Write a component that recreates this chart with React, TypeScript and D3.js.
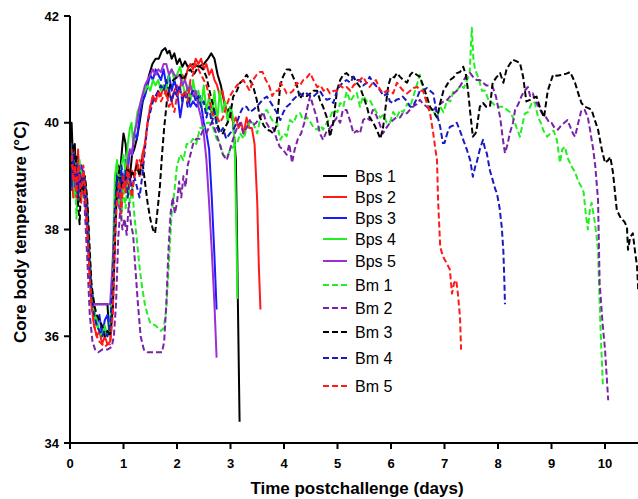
import React from "react";
import * as d3 from "d3";

type Pt = [number, number];

const xTicks = [0, 1, 2, 3, 4, 5, 6, 7, 8, 9, 10];
const yTicks = [34, 36, 38, 40, 42];

const bps1: Pt[] = [[0,39.3],[0.03,40.0],[0.06,39.2],[0.09,39.6],[0.12,38.7],[0.15,39.4],[0.18,38.9],[0.21,39.2],[0.25,38.8],[0.28,38.9],[0.32,38.5],[0.36,37.6],[0.4,36.9],[0.45,36.6],[0.55,36.6],[0.7,36.6],[0.73,36.1],[0.78,36.3],[0.82,37.5],[0.86,38.8],[0.9,39.2],[0.94,39.1],[0.98,39.6],[1.0,39.8],[1.04,39.6],[1.08,39.1],[1.12,39.0],[1.16,39.4],[1.2,39.5],[1.25,39.7],[1.3,40.0],[1.36,40.4],[1.42,40.6],[1.48,40.9],[1.54,41.1],[1.6,41.2],[1.66,41.2],[1.72,41.35],[1.78,41.4],[1.82,41.3],[1.86,41.35],[1.9,41.2],[1.95,41.3],[2.0,41.1],[2.05,41.2],[2.1,41.05],[2.15,41.15],[2.2,41.05],[2.3,41.1],[2.4,41.05],[2.5,41.1],[2.58,41.2],[2.64,41.3],[2.7,41.2],[2.76,40.9],[2.82,40.7],[2.88,40.4],[2.94,40.2],[3.0,40.3],[3.05,40.0],[3.1,39.3],[3.12,38.0],[3.14,36.5],[3.17,34.4]];

const bps2: Pt[] = [[0,39.0],[0.03,39.4],[0.06,38.6],[0.09,39.3],[0.12,38.9],[0.15,39.5],[0.18,38.7],[0.21,39.1],[0.25,38.6],[0.28,38.9],[0.32,38.2],[0.36,37.4],[0.4,36.6],[0.45,36.2],[0.5,36.0],[0.55,36.1],[0.6,35.85],[0.65,36.0],[0.7,35.85],[0.75,35.9],[0.8,36.6],[0.84,38.0],[0.88,38.8],[0.92,39.1],[0.96,38.5],[1.0,39.0],[1.04,38.7],[1.08,39.2],[1.12,38.9],[1.16,39.1],[1.2,39.0],[1.25,39.3],[1.3,39.0],[1.35,39.4],[1.4,39.6],[1.45,40.0],[1.5,40.3],[1.55,40.5],[1.6,40.4],[1.65,40.6],[1.7,40.5],[1.75,40.7],[1.8,40.5],[1.85,40.6],[1.9,40.4],[1.95,40.6],[2.0,40.7],[2.05,40.6],[2.1,40.9],[2.15,40.8],[2.2,41.0],[2.25,41.1],[2.3,41.0],[2.35,41.2],[2.4,41.1],[2.45,41.2],[2.5,41.0],[2.55,41.1],[2.6,40.9],[2.65,41.0],[2.7,40.8],[2.75,40.7],[2.8,40.5],[2.85,40.6],[2.9,40.3],[2.95,40.1],[3.0,40.2],[3.05,40.0],[3.1,40.1],[3.15,39.9],[3.2,40.0],[3.25,39.8],[3.3,40.1],[3.35,39.9],[3.4,39.9],[3.45,39.6],[3.5,38.5],[3.53,37.3],[3.56,36.5]];

const bps3: Pt[] = [[0,39.2],[0.03,39.6],[0.06,38.9],[0.09,39.4],[0.12,39.0],[0.15,39.3],[0.18,38.8],[0.21,39.2],[0.25,39.0],[0.28,38.7],[0.32,38.4],[0.36,37.5],[0.4,36.8],[0.45,36.5],[0.5,36.2],[0.55,36.4],[0.6,36.0],[0.65,36.3],[0.7,36.4],[0.75,36.1],[0.8,36.9],[0.84,38.3],[0.88,38.9],[0.92,38.6],[0.96,39.1],[1.0,38.8],[1.04,39.3],[1.08,39.1],[1.12,39.5],[1.16,39.4],[1.2,39.8],[1.25,39.7],[1.3,40.1],[1.35,40.4],[1.4,40.5],[1.45,40.7],[1.5,40.9],[1.55,40.8],[1.6,41.0],[1.65,40.9],[1.7,40.8],[1.75,41.0],[1.8,40.7],[1.85,40.9],[1.9,40.6],[1.95,40.8],[2.0,40.6],[2.06,40.1],[2.12,40.5],[2.18,40.55],[2.25,40.3],[2.3,40.4],[2.37,40.3],[2.43,40.5],[2.5,40.0],[2.55,39.8],[2.6,39.5],[2.65,38.6],[2.7,37.5],[2.74,36.5]];

const bps4: Pt[] = [[0,39.7],[0.03,39.0],[0.06,39.5],[0.09,38.6],[0.12,39.2],[0.15,38.9],[0.18,39.3],[0.21,38.8],[0.25,39.1],[0.28,38.6],[0.32,38.3],[0.36,37.6],[0.4,36.9],[0.45,36.5],[0.5,36.3],[0.55,36.1],[0.6,36.0],[0.65,36.2],[0.7,36.0],[0.75,36.2],[0.8,37.5],[0.84,39.0],[0.88,39.3],[0.92,38.7],[0.96,39.2],[1.0,39.4],[1.04,39.0],[1.08,39.6],[1.12,39.9],[1.15,40.0],[1.18,39.6],[1.22,39.9],[1.26,40.2],[1.3,40.3],[1.35,40.5],[1.4,40.6],[1.45,40.7],[1.5,40.6],[1.55,40.8],[1.6,40.7],[1.65,40.8],[1.7,40.6],[1.75,40.7],[1.8,40.6],[1.85,40.9],[1.9,41.0],[1.95,40.8],[2.0,40.9],[2.06,41.05],[2.1,40.8],[2.15,40.5],[2.2,40.7],[2.25,40.4],[2.3,40.8],[2.35,40.5],[2.4,40.6],[2.45,40.3],[2.5,40.7],[2.55,40.2],[2.6,40.5],[2.65,40.1],[2.7,40.6],[2.75,40.0],[2.8,40.6],[2.85,40.2],[2.9,40.4],[2.95,40.0],[3.0,40.3],[3.05,40.1],[3.08,39.5],[3.11,38.0],[3.13,36.7]];

const bps5: Pt[] = [[0,39.4],[0.03,38.9],[0.06,39.5],[0.09,38.9],[0.12,39.3],[0.15,38.7],[0.18,39.2],[0.21,38.9],[0.25,39.0],[0.28,38.5],[0.32,38.0],[0.36,37.3],[0.4,36.8],[0.45,36.6],[0.5,36.6],[0.6,36.6],[0.7,36.6],[0.75,36.6],[0.8,37.4],[0.84,38.4],[0.88,38.7],[0.92,38.4],[0.96,38.9],[1.0,39.0],[1.04,38.8],[1.08,39.3],[1.12,39.5],[1.16,39.4],[1.2,39.8],[1.25,40.0],[1.3,40.3],[1.35,40.5],[1.4,40.7],[1.45,40.8],[1.5,40.9],[1.55,41.0],[1.6,40.9],[1.65,41.0],[1.7,40.95],[1.75,41.1],[1.8,41.1],[1.85,40.9],[1.9,41.0],[1.95,40.9],[2.0,40.85],[2.05,40.9],[2.1,40.7],[2.15,40.8],[2.2,40.6],[2.25,40.7],[2.3,40.5],[2.35,40.6],[2.4,40.3],[2.45,40.1],[2.5,39.8],[2.55,39.3],[2.6,38.5],[2.65,37.6],[2.7,36.6],[2.74,35.6]];

const bm1: Pt[] = [[0,38.4],[0.03,39.5],[0.06,38.8],[0.09,39.3],[0.12,38.2],[0.15,38.9],[0.18,38.5],[0.21,39.1],[0.25,38.6],[0.28,38.9],[0.32,38.3],[0.36,37.6],[0.4,36.9],[0.45,36.4],[0.5,36.2],[0.55,36.1],[0.6,36.0],[0.65,36.1],[0.7,36.0],[0.75,36.1],[0.8,36.8],[0.84,38.2],[0.88,38.9],[0.92,38.5],[0.96,38.2],[1.0,38.8],[1.04,38.4],[1.08,38.9],[1.12,38.5],[1.16,38.8],[1.2,38.3],[1.25,37.8],[1.3,37.3],[1.35,36.9],[1.4,36.6],[1.45,36.4],[1.5,36.25],[1.6,36.2],[1.7,36.1],[1.75,36.15],[1.8,36.5],[1.85,37.4],[1.9,38.3],[1.95,38.7],[2.0,39.2],[2.06,39.4],[2.12,39.3],[2.18,39.6],[2.24,39.6],[2.3,39.7],[2.36,39.6],[2.43,39.9],[2.5,39.9],[2.56,40.0],[2.62,40.0],[2.68,39.9],[2.74,39.7],[2.8,39.6],[2.86,39.4],[2.93,39.35],[3.0,39.5],[3.05,39.55],[3.12,39.6],[3.18,39.8],[3.25,39.7],[3.3,39.9],[3.36,40.0],[3.42,40.0],[3.5,39.8],[3.56,40.1],[3.62,40.2],[3.68,40.24],[3.75,40.1],[3.81,40.0],[3.87,40.0],[3.93,39.68],[4.0,39.8],[4.05,39.75],[4.11,40.05],[4.18,40.0],[4.24,40.15],[4.3,40.18],[4.36,40.05],[4.43,40.1],[4.5,40.0],[4.56,39.9],[4.62,39.87],[4.68,39.95],[4.73,39.87],[4.8,40.0],[4.86,40.1],[4.92,40.24],[5.0,40.2],[5.05,40.37],[5.11,40.3],[5.17,40.58],[5.24,40.4],[5.3,40.5],[5.36,40.56],[5.42,40.3],[5.48,40.5],[5.55,40.4],[5.6,40.43],[5.67,40.3],[5.74,40.18],[5.8,40.1],[5.86,40.15],[5.92,40.0],[5.98,40.0],[6.04,40.2],[6.11,40.1],[6.17,40.24],[6.23,40.2],[6.3,40.35],[6.36,40.3],[6.42,40.5],[6.48,40.7],[6.54,40.9],[6.6,40.6],[6.67,40.4],[6.73,40.24],[6.8,40.2],[6.86,40.1],[6.92,40.3],[6.98,40.2],[7.05,40.43],[7.11,40.4],[7.17,40.6],[7.23,40.6],[7.3,40.7],[7.36,40.65],[7.42,40.8],[7.47,40.9],[7.51,41.78],[7.54,41.2],[7.57,41.0],[7.63,40.85],[7.7,40.6],[7.76,40.6],[7.83,40.4],[7.9,40.37],[7.96,40.3],[8.03,40.3],[8.1,40.3],[8.16,40.25],[8.22,40.2],[8.28,40.1],[8.35,39.9],[8.41,39.74],[8.45,39.93],[8.5,40.17],[8.56,40.2],[8.6,40.3],[8.65,40.4],[8.69,40.37],[8.75,40.1],[8.8,40.0],[8.85,39.85],[8.92,39.74],[8.98,39.8],[9.04,39.85],[9.1,39.68],[9.16,39.25],[9.2,39.5],[9.25,39.55],[9.3,39.35],[9.38,39.17],[9.44,39.08],[9.5,38.9],[9.56,38.8],[9.6,38.7],[9.64,38.3],[9.68,38.0],[9.72,38.4],[9.75,38.5],[9.8,38.2],[9.84,37.9],[9.87,37.6],[9.9,36.6],[9.93,35.8],[9.96,35.1]];

const bm2: Pt[] = [[0,39.0],[0.03,38.7],[0.06,39.4],[0.09,38.8],[0.12,39.1],[0.15,38.5],[0.18,39.0],[0.21,38.7],[0.25,38.9],[0.28,38.3],[0.32,37.5],[0.37,36.4],[0.42,35.9],[0.47,35.75],[0.53,35.7],[0.6,35.75],[0.7,35.75],[0.78,35.8],[0.82,36.0],[0.86,36.6],[0.9,37.8],[0.94,38.4],[0.98,38.0],[1.02,38.2],[1.06,37.9],[1.1,38.5],[1.14,38.1],[1.18,37.9],[1.22,37.3],[1.27,36.6],[1.32,36.0],[1.38,35.75],[1.45,35.7],[1.55,35.7],[1.65,35.7],[1.72,35.7],[1.76,35.9],[1.8,36.6],[1.84,37.6],[1.88,38.3],[1.92,38.6],[1.96,38.3],[2.0,38.5],[2.04,38.9],[2.08,38.6],[2.12,39.0],[2.16,38.8],[2.2,39.2],[2.25,39.4],[2.3,39.6],[2.36,39.7],[2.42,39.7],[2.48,39.85],[2.55,39.8],[2.61,39.95],[2.67,40.0],[2.73,39.8],[2.8,39.6],[2.86,39.4],[2.93,39.3],[2.99,39.5],[3.05,39.7],[3.12,39.9],[3.18,40.0],[3.24,39.8],[3.3,39.9],[3.36,40.05],[3.42,39.95],[3.48,40.0],[3.55,40.1],[3.61,40.2],[3.67,40.0],[3.73,39.9],[3.8,39.9],[3.86,39.7],[3.92,39.55],[3.98,39.5],[4.05,39.4],[4.1,39.6],[4.15,39.25],[4.2,39.5],[4.26,39.7],[4.32,39.8],[4.38,40.0],[4.44,40.3],[4.49,40.5],[4.55,40.3],[4.61,40.1],[4.67,39.8],[4.73,39.68],[4.8,39.85],[4.86,39.9],[4.92,40.0],[4.99,40.1],[5.05,40.0],[5.1,40.24],[5.17,40.24],[5.23,40.05],[5.3,39.8],[5.36,39.85],[5.42,39.8],[5.48,40.05],[5.54,40.1],[5.6,40.05],[5.66,40.24],[5.72,40.15],[5.78,40.0],[5.85,39.8],[5.91,39.9],[5.98,40.0],[6.04,40.05],[6.1,40.1],[6.17,40.1],[6.22,40.18],[6.3,40.18],[6.36,40.25],[6.41,40.3],[6.48,40.35],[6.54,40.43],[6.6,40.35],[6.67,40.3],[6.73,40.24],[6.8,40.25],[6.86,40.3],[6.92,40.35],[6.98,40.4],[7.05,40.43],[7.11,40.5],[7.17,40.55],[7.23,40.6],[7.3,40.7],[7.36,40.8],[7.42,40.9],[7.48,40.93],[7.54,40.85],[7.6,40.8],[7.66,40.8],[7.72,40.75],[7.78,40.7],[7.84,40.7],[7.9,40.67],[7.96,40.5],[8.0,40.3],[8.04,40.1],[8.09,39.7],[8.13,39.43],[8.18,39.6],[8.22,39.8],[8.28,40.0],[8.32,40.24],[8.38,40.35],[8.44,40.5],[8.5,40.6],[8.56,40.67],[8.6,40.5],[8.65,40.55],[8.7,40.4],[8.76,40.3],[8.82,40.18],[8.9,40.1],[8.96,40.0],[9.0,40.0],[9.06,39.9],[9.12,39.87],[9.18,39.95],[9.24,40.0],[9.3,40.05],[9.36,39.9],[9.4,39.8],[9.44,39.74],[9.5,40.0],[9.56,40.24],[9.62,40.24],[9.68,40.1],[9.72,39.87],[9.78,39.5],[9.82,39.17],[9.87,38.55],[9.9,37.0],[9.95,36.3],[10.0,35.75],[10.06,34.8]];

const bm3: Pt[] = [[0,39.6],[0.03,39.1],[0.06,39.6],[0.09,39.0],[0.12,39.4],[0.15,38.5],[0.18,38.1],[0.21,39.0],[0.25,38.7],[0.28,39.0],[0.32,38.6],[0.36,37.8],[0.4,37.0],[0.45,36.6],[0.5,36.4],[0.55,36.3],[0.6,36.2],[0.65,36.0],[0.7,36.1],[0.75,36.0],[0.8,36.5],[0.85,38.0],[0.88,38.9],[0.92,39.1],[0.96,38.8],[1.0,39.0],[1.04,38.9],[1.08,39.2],[1.12,38.9],[1.16,39.1],[1.2,39.0],[1.25,39.2],[1.3,39.0],[1.35,39.3],[1.4,38.9],[1.45,38.5],[1.5,38.2],[1.55,38.0],[1.59,37.93],[1.64,38.4],[1.68,38.8],[1.72,39.4],[1.76,39.9],[1.81,40.4],[1.87,40.7],[1.93,40.8],[2.0,40.85],[2.06,40.9],[2.12,40.8],[2.18,40.93],[2.25,41.0],[2.31,40.9],[2.37,41.0],[2.43,41.05],[2.49,41.0],[2.55,40.86],[2.62,40.55],[2.68,40.3],[2.74,40.0],[2.8,39.85],[2.86,39.8],[2.92,39.95],[2.99,40.1],[3.05,40.49],[3.12,40.6],[3.18,40.75],[3.24,40.8],[3.3,40.9],[3.36,40.8],[3.42,40.7],[3.49,40.43],[3.55,40.1],[3.62,39.95],[3.68,39.87],[3.74,39.85],[3.8,39.8],[3.86,39.95],[3.93,40.7],[3.98,40.86],[4.05,41.0],[4.11,41.0],[4.17,40.86],[4.24,40.7],[4.3,40.45],[4.36,40.55],[4.43,40.5],[4.49,40.55],[4.55,40.6],[4.62,40.6],[4.67,40.43],[4.73,40.3],[4.8,40.1],[4.86,39.74],[4.92,40.0],[4.99,40.6],[5.05,40.8],[5.11,40.9],[5.17,40.93],[5.24,40.85],[5.3,40.86],[5.36,40.75],[5.42,40.67],[5.48,40.5],[5.55,40.3],[5.6,40.1],[5.67,40.0],[5.74,39.85],[5.8,39.7],[5.85,39.9],[5.9,40.3],[5.95,40.7],[6.0,40.86],[6.06,40.85],[6.11,40.93],[6.17,40.86],[6.23,40.8],[6.3,40.75],[6.36,40.9],[6.41,40.95],[6.48,40.9],[6.54,40.86],[6.6,40.7],[6.67,40.49],[6.73,40.3],[6.8,40.2],[6.86,40.1],[6.92,40.37],[6.98,40.6],[7.04,40.7],[7.1,40.8],[7.17,40.85],[7.23,40.93],[7.29,40.95],[7.35,41.05],[7.4,40.9],[7.44,40.6],[7.48,40.2],[7.53,39.74],[7.58,39.8],[7.6,39.87],[7.66,40.3],[7.72,40.37],[7.78,40.3],[7.85,40.3],[7.9,40.75],[7.97,40.85],[8.04,40.93],[8.1,40.75],[8.16,41.0],[8.22,41.1],[8.28,41.18],[8.35,41.15],[8.41,41.12],[8.47,40.86],[8.53,40.4],[8.6,40.43],[8.66,40.47],[8.72,40.49],[8.78,40.3],[8.86,40.1],[8.93,40.6],[9.03,40.9],[9.1,40.88],[9.2,40.9],[9.28,40.92],[9.35,40.95],[9.44,40.75],[9.5,40.55],[9.56,40.37],[9.62,40.3],[9.7,40.27],[9.75,40.24],[9.81,40.05],[9.87,39.87],[9.94,39.5],[10.0,39.25],[10.06,39.3],[10.1,39.36],[10.15,39.06],[10.22,38.37],[10.3,38.2],[10.36,38.15],[10.41,38.05],[10.43,37.62],[10.47,37.85],[10.52,37.93],[10.56,37.6],[10.6,37.3],[10.62,36.87]];

const bm4: Pt[] = [[0,39.3],[0.03,38.8],[0.06,39.4],[0.09,38.9],[0.12,39.2],[0.15,38.6],[0.18,39.1],[0.21,38.8],[0.25,39.1],[0.28,38.7],[0.32,38.2],[0.36,37.4],[0.4,36.8],[0.45,36.4],[0.5,36.2],[0.55,36.1],[0.6,36.0],[0.65,36.1],[0.7,36.0],[0.75,36.2],[0.8,37.0],[0.84,38.4],[0.88,39.0],[0.92,38.6],[0.96,39.2],[1.0,38.9],[1.04,39.1],[1.08,38.6],[1.12,39.0],[1.16,38.7],[1.2,39.0],[1.25,38.8],[1.3,38.6],[1.35,39.0],[1.4,39.5],[1.45,40.0],[1.5,40.2],[1.55,40.4],[1.6,40.5],[1.65,40.6],[1.7,40.7],[1.75,40.6],[1.8,40.8],[1.85,40.6],[1.9,40.4],[1.95,40.6],[2.0,40.5],[2.05,40.7],[2.1,40.4],[2.15,40.6],[2.2,40.3],[2.25,40.5],[2.3,40.6],[2.35,40.4],[2.4,40.5],[2.45,40.3],[2.5,40.4],[2.55,40.1],[2.6,40.3],[2.65,40.0],[2.7,40.2],[2.75,39.9],[2.8,39.8],[2.86,39.9],[2.92,39.7],[2.99,39.8],[3.05,39.87],[3.12,40.0],[3.18,40.18],[3.24,40.3],[3.3,40.3],[3.36,40.2],[3.42,40.24],[3.49,40.3],[3.55,40.37],[3.62,40.45],[3.68,40.49],[3.74,40.4],[3.8,40.3],[3.86,40.2],[3.93,40.05],[3.99,40.2],[4.05,40.3],[4.11,40.35],[4.17,40.43],[4.24,40.5],[4.3,40.55],[4.36,40.5],[4.43,40.55],[4.49,40.5],[4.55,40.49],[4.61,40.55],[4.67,40.6],[4.73,40.5],[4.8,40.43],[4.86,40.45],[4.92,40.37],[4.99,40.6],[5.05,40.7],[5.1,40.75],[5.17,40.8],[5.24,40.75],[5.3,40.86],[5.36,40.8],[5.42,40.8],[5.48,40.7],[5.55,40.75],[5.6,40.86],[5.67,40.75],[5.74,40.67],[5.8,40.6],[5.86,40.5],[5.93,40.55],[5.98,40.4],[6.04,40.37],[6.1,40.43],[6.16,40.45],[6.22,40.49],[6.3,40.4],[6.36,40.3],[6.41,40.3],[6.48,40.45],[6.54,40.6],[6.6,40.6],[6.67,40.65],[6.73,40.6],[6.79,40.55],[6.85,40.2],[6.92,39.92],[6.97,39.62],[7.0,39.62],[7.05,39.8],[7.1,39.92],[7.17,39.95],[7.23,40.0],[7.29,39.85],[7.35,39.68],[7.42,39.49],[7.48,39.3],[7.53,38.99],[7.58,39.2],[7.6,39.25],[7.66,39.5],[7.72,39.68],[7.76,39.5],[7.79,39.43],[7.85,39.1],[7.9,38.93],[7.95,38.75],[7.98,38.68],[8.03,38.4],[8.07,38.05],[8.1,37.6],[8.12,37.0],[8.13,36.6]];

const bm5: Pt[] = [[0,39.1],[0.03,39.5],[0.06,38.9],[0.09,39.2],[0.12,38.6],[0.15,39.3],[0.18,39.0],[0.21,38.5],[0.25,39.2],[0.28,38.8],[0.32,38.1],[0.36,37.3],[0.4,36.6],[0.45,36.2],[0.5,36.0],[0.55,35.9],[0.6,35.85],[0.65,35.8],[0.7,35.85],[0.75,35.85],[0.8,36.4],[0.84,37.8],[0.88,38.6],[0.92,38.9],[0.96,38.3],[1.0,39.0],[1.04,38.7],[1.08,39.2],[1.12,38.8],[1.16,38.6],[1.2,39.0],[1.25,39.1],[1.3,39.3],[1.35,39.2],[1.4,39.6],[1.45,40.0],[1.5,40.3],[1.55,40.5],[1.6,40.4],[1.65,40.55],[1.7,40.4],[1.75,40.5],[1.8,40.6],[1.85,40.3],[1.9,40.4],[1.95,40.2],[2.0,40.5],[2.05,40.6],[2.1,40.5],[2.15,40.6],[2.2,40.4],[2.25,40.8],[2.3,40.9],[2.35,41.1],[2.4,41.0],[2.45,40.9],[2.5,40.8],[2.55,40.7],[2.6,40.5],[2.65,40.2],[2.7,40.1],[2.75,40.1],[2.8,40.0],[2.86,40.1],[2.92,40.3],[2.99,40.5],[3.05,40.6],[3.12,40.7],[3.18,40.75],[3.24,40.8],[3.3,40.7],[3.36,40.6],[3.42,40.8],[3.49,40.9],[3.55,40.95],[3.6,40.95],[3.66,40.8],[3.72,40.7],[3.78,40.5],[3.84,40.6],[3.9,40.6],[3.93,40.75],[4.0,40.65],[4.05,40.55],[4.11,40.55],[4.17,40.6],[4.24,40.75],[4.3,40.7],[4.36,40.8],[4.43,40.85],[4.49,40.93],[4.55,40.8],[4.62,40.67],[4.68,40.7],[4.74,40.6],[4.8,40.65],[4.86,40.55],[4.93,40.6],[4.99,40.6],[5.05,40.7],[5.11,40.65],[5.17,40.67],[5.24,40.6],[5.3,40.7],[5.36,40.75],[5.42,40.8],[5.48,40.86],[5.54,40.75],[5.6,40.67],[5.66,40.75],[5.72,40.8],[5.78,40.65],[5.85,40.55],[5.92,40.6],[5.98,40.6],[6.04,40.55],[6.11,40.75],[6.17,40.67],[6.23,40.6],[6.3,40.55],[6.36,40.6],[6.42,40.65],[6.49,40.67],[6.55,40.6],[6.6,40.6],[6.66,40.4],[6.73,40.18],[6.79,39.8],[6.83,39.5],[6.86,39.3],[6.88,38.55],[6.92,37.67],[6.97,37.5],[7.05,37.35],[7.1,37.25],[7.14,36.8],[7.18,37.0],[7.22,37.05],[7.25,36.8],[7.29,36.36],[7.31,35.75]];

const seriesNames = ["Bps 1", "Bps 2", "Bps 3", "Bps 4", "Bps 5", "Bm 1", "Bm 2", "Bm 3", "Bm 4", "Bm 5"];
const seriesData = [bps1, bps2, bps3, bps4, bps5, bm1, bm2, bm3, bm4, bm5];
const seriesColors = ["#000000", "#ff1a1a", "#1a1aff", "#22ee22", "#9a2fd6", "#22ee22", "#7a22a8", "#000000", "#1a1ac0", "#ff1a1a"];
const seriesDashed = [false, false, false, false, false, true, true, true, true, true];
const legendY = [176, 197, 218, 239, 261, 285, 308, 332, 358, 386];

export default function App() {
  const W = 638, H = 499;
  const x = d3.scaleLinear().domain([0, 10]).range([70, 605]);
  const y = d3.scaleLinear().domain([34, 42]).range([443, 16]);
  const line = d3.line<Pt>().x(d => x(d[0])).y(d => y(d[1]));
  const font = "Arial, 'Liberation Sans', Helvetica, sans-serif";

  return (
    <svg width={W} height={H} style={{ position: "absolute", left: 0, top: 0, background: "#fff" }} fontFamily={font}>
      <rect width={W} height={H} fill="#fff" />
      {seriesData.map((d, i) => (
        <path key={i} d={line(d) || ""} fill="none" stroke={seriesColors[i]} strokeWidth={2}
          strokeDasharray={seriesDashed[i] ? "6,3" : undefined} strokeLinejoin="round" />
      ))}
      <line x1={70} x2={70} y1={16} y2={444} stroke="#000" strokeWidth={2} />
      <line x1={69} x2={W} y1={443} y2={443} stroke="#000" strokeWidth={2} />
      {yTicks.map(t => (
        <g key={"y" + t}>
          <line x1={64} x2={70} y1={y(t)} y2={y(t)} stroke="#000" strokeWidth={2} />
          <text x={59} y={y(t) + 4.5} textAnchor="end" fontSize={13} fontWeight="bold">{t}</text>
        </g>
      ))}
      {xTicks.map(t => (
        <g key={"x" + t}>
          <line x1={x(t)} x2={x(t)} y1={443} y2={449} stroke="#000" strokeWidth={2} />
          <text x={x(t)} y={468} textAnchor="middle" fontSize={13} fontWeight="bold">{t}</text>
        </g>
      ))}
      <text x={357} y={494} textAnchor="middle" fontSize={17} fontWeight="bold">Time postchallenge (days)</text>
      <text transform="translate(26,232) rotate(-90)" textAnchor="middle" fontSize={17} fontWeight="bold">Core body temperature (°C)</text>
      {seriesNames.map((n, i) => (
        <g key={"l" + i}>
          <line x1={323} x2={347} y1={legendY[i]} y2={legendY[i]} stroke={seriesColors[i]} strokeWidth={2}
            strokeDasharray={seriesDashed[i] ? "6,3" : undefined} />
          <text x={355} y={legendY[i] + 5.5} fontSize={16}>{n}</text>
        </g>
      ))}
    </svg>
  );
}
